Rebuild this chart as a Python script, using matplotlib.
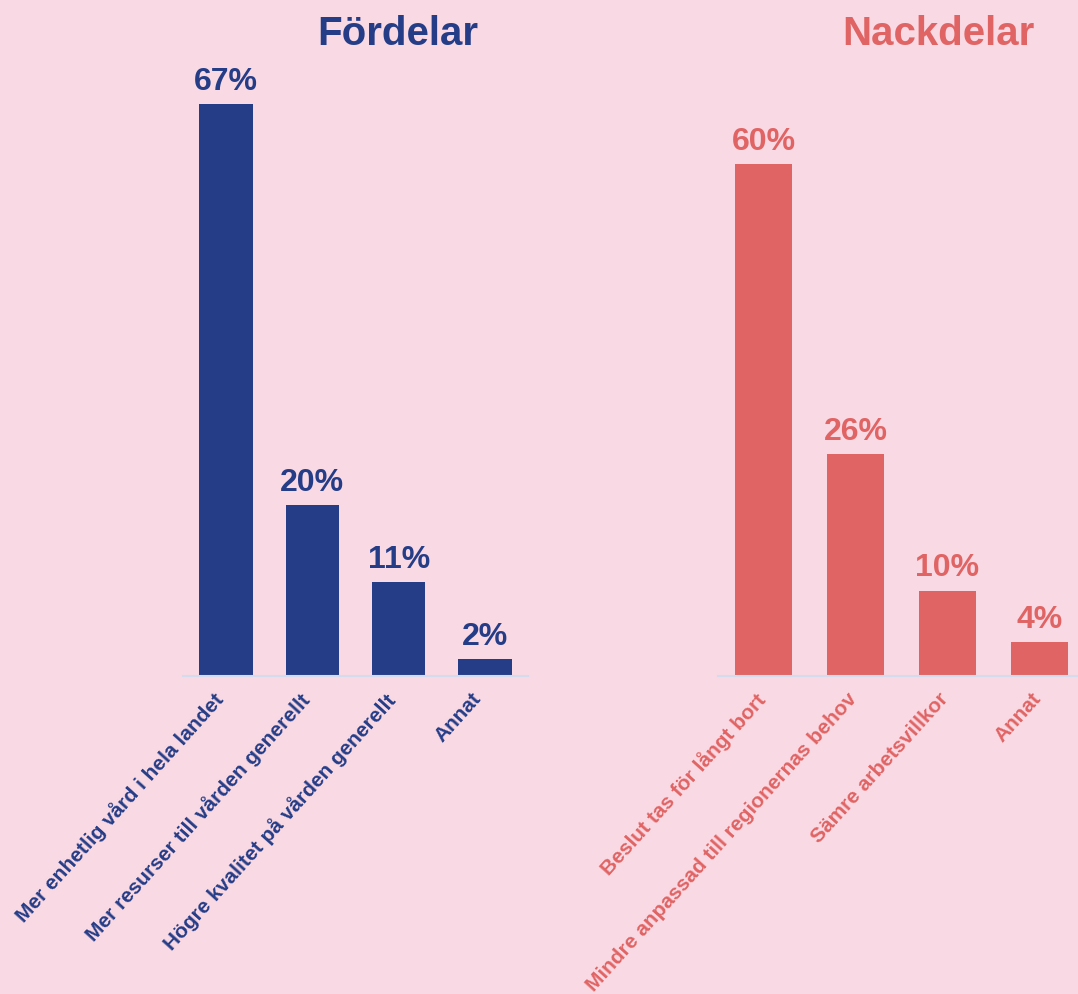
import matplotlib.pyplot as plt
from matplotlib.transforms import ScaledTranslation

plt.rcParams['font.family'] = ['Liberation Sans', 'DejaVu Sans']

# data
pro_labels = ["Mer enhetlig vård i hela landet", "Mer resurser till vården generellt",
              "Högre kvalitet på vården generellt", "Annat"]
pro_values = [67, 20, 11, 2]
con_labels = ["Beslut tas för långt bort", "Mindre anpassad till regionernas behov",
              "Sämre arbetsvillkor", "Annat"]
con_values = [60, 26, 10, 4]

bg = "#f9d9e3"
blue = "#253d87"
red = "#e06464"
axis_col = "#d3dbef"

W, H = 1078, 995
fig = plt.figure(figsize=(W / 100, H / 100), dpi=100, facecolor=bg)

px_per_pct = 8.53
top = 70
ax_h = top * px_per_pct / H
ax_bottom = (H - 677) / H


def panel(left_px, width_px, labels, values, color, title, title_x, shift):
    ax = fig.add_axes([left_px / W, ax_bottom, width_px / W, ax_h])
    ax.set_facecolor(bg)
    x = range(len(values))
    bars = ax.bar(x, values, width=0.62, color=color)
    ax.set_xlim(-0.5, len(values) - 0.5)
    ax.set_ylim(0, top)
    for b, v in zip(bars, values):
        ax.annotate(f"{v}%", (b.get_x() + b.get_width() / 2, v),
                    xytext=(0, 6), textcoords="offset points",
                    ha="center", va="bottom", fontsize=23,
                    fontweight="bold", color=color)
    for s in ["top", "right", "left"]:
        ax.spines[s].set_visible(False)
    ax.spines["bottom"].set_color(axis_col)
    ax.spines["bottom"].set_linewidth(1.5)
    ax.set_yticks([])
    ax.set_xticks(list(x))
    ax.set_xticklabels(labels, rotation=48, ha="right", va="top",
                       rotation_mode="anchor",
                       fontsize=15, fontweight="bold", color=color)
    ax.tick_params(axis="x", length=0, pad=9)
    off = ScaledTranslation(shift / 100, 0, fig.dpi_scale_trans)
    for lab in ax.get_xticklabels():
        lab.set_transform(lab.get_transform() + off)
    fig.text(title_x / W, 1 - 45 / H, title, ha="center", va="baseline",
             fontsize=29, fontweight="bold", color=color)
    return ax


panel(183, 345, pro_labels, pro_values, blue, "Fördelar", 397.5, -14)
panel(717.5, 368, con_labels, con_values, red, "Nackdelar", 938, -9)

fig.savefig("out.png", dpi=100, facecolor=bg)
